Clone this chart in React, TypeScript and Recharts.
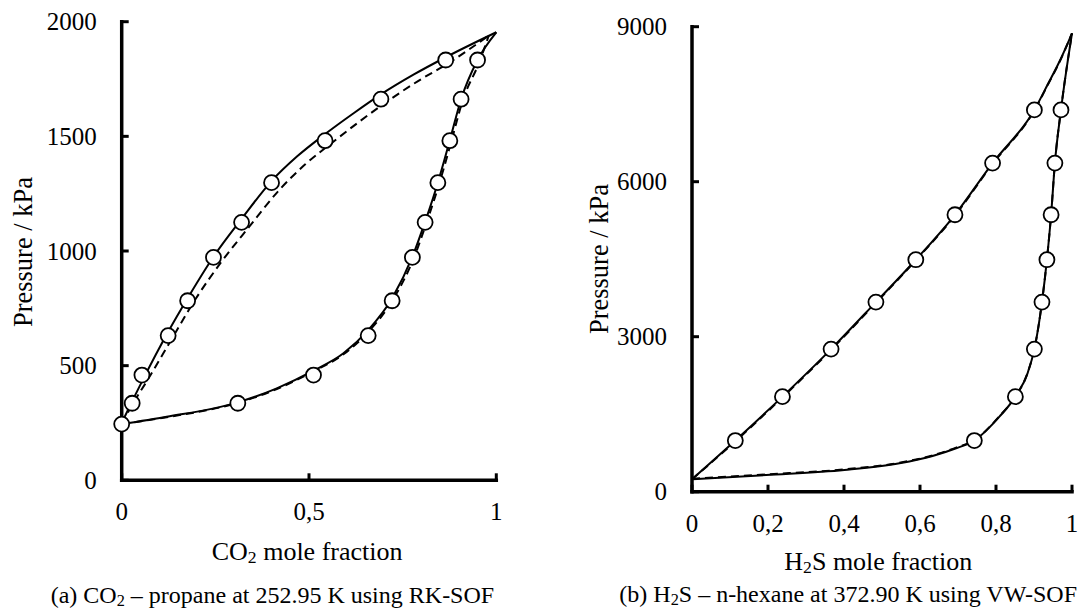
import React from 'react';
import { ComposedChart, Line, Scatter, XAxis, YAxis } from 'recharts';

const FONT = '"Liberation Serif", "Times New Roman", serif';

// (a) CO2 – propane at 252.95 K, experimental points
const co2LiquidP = [245, 336, 459, 631, 783, 972, 1125, 1298, 1481, 1662, 1833];
const co2LiquidX = [0, 0.028, 0.054, 0.124, 0.176, 0.245, 0.32, 0.4, 0.543, 0.692, 0.865];
const co2VapourP = [336, 459, 631, 783, 972, 1125, 1298, 1481, 1662, 1833];
const co2VapourX = [0.31, 0.512, 0.658, 0.722, 0.776, 0.81, 0.844, 0.876, 0.906, 0.95];

// (a) model curves
const co2BubbleX = [0, 0.03, 0.06, 0.12, 0.18, 0.245, 0.32, 0.4, 0.47, 0.543, 0.62, 0.692, 0.78, 0.865, 1];
const co2BubbleP = [250, 352, 450, 636, 805, 975, 1140, 1305, 1415, 1510, 1602, 1683, 1770, 1845, 1954];
const co2BubbleDashX = [0, 0.03, 0.07, 0.135, 0.195, 0.265, 0.34, 0.42, 0.49, 0.56, 0.635, 0.705, 0.79, 0.875, 0.98];
const co2BubbleDashP = [245, 335, 440, 620, 785, 950, 1105, 1265, 1378, 1470, 1565, 1648, 1740, 1822, 1940];
const co2DewX = [0, 0.12, 0.31, 0.414, 0.512, 0.592, 0.658, 0.722, 0.776, 0.81, 0.844, 0.876, 0.906, 0.95, 1];
const co2DewP = [245, 277, 340, 401, 478, 554, 655, 794, 975, 1128, 1298, 1483, 1662, 1833, 1954];
const co2DewDashX = [0, 0.12, 0.31, 0.414, 0.512, 0.594, 0.66, 0.725, 0.78, 0.814, 0.848, 0.88, 0.91, 0.955, 0.98];
const co2DewDashP = [245, 275, 338, 398, 475, 552, 650, 790, 970, 1125, 1295, 1478, 1655, 1825, 1940];

// (b) H2S – n-hexane at 372.90 K, experimental points
const h2sPressure = [990, 1840, 2760, 3670, 4490, 5360, 6360, 7390];
const h2sLiquidX = [0.114, 0.238, 0.366, 0.484, 0.589, 0.692, 0.791, 0.901];
const h2sVapourX = [0.743, 0.851, 0.901, 0.921, 0.934, 0.945, 0.955, 0.971];

// (b) model curves
const h2sBubbleX = [0, 0.114, 0.238, 0.366, 0.484, 0.589, 0.692, 0.791, 0.901, 0.936, 0.968, 1];
const h2sBubbleP = [240, 990, 1840, 2760, 3670, 4490, 5360, 6360, 7390, 7880, 8340, 8872];
const h2sBubbleDashP = [240, 975, 1825, 2745, 3655, 4480, 5345, 6345, 7380, 7870, 8330, 8872];
const h2sDewX = [0, 0.195, 0.401, 0.546, 0.633, 0.695, 0.743, 0.809, 0.851, 0.883, 0.901, 0.921, 0.934, 0.945, 0.955, 0.971, 1];
const h2sDewP = [240, 323, 420, 549, 690, 840, 990, 1452, 1840, 2291, 2760, 3670, 4490, 5360, 6360, 7390, 8872];
const h2sDewDashP = [250, 335, 432, 560, 702, 852, 1000, 1460, 1845, 2295, 2765, 3672, 4492, 5362, 6362, 7392, 8872];

const co2XTicks = [0, 0.5, 1];
const co2YTicks = [0, 500, 1000, 1500, 2000];
const h2sXTicks = [0, 0.2, 0.4, 0.6, 0.8, 1];
const h2sYTicks = [0, 3000, 6000, 9000];

const toPts = (xs: number[], ps: number[]) => xs.map((x, i) => ({ x, p: ps[i] }));

const XTick = (props: any) => {
  const { x, y, payload } = props;
  return (
    <g>
      <line x1={x} y1={y} x2={x} y2={y - 7} stroke="#000" strokeWidth={3} />
      <text x={x} y={y + 40} textAnchor="middle" fontFamily={FONT} fontSize={25} fill="#000">
        {String(payload.value).replace('.', ',')}
      </text>
    </g>
  );
};

const YTick = (props: any) => {
  const { x, y, payload } = props;
  return (
    <g>
      <line x1={x} y1={y} x2={x + 7} y2={y} stroke="#000" strokeWidth={3} />
      <text x={x - 25} y={y + 8.5} textAnchor="end" fontFamily={FONT} fontSize={25} fill="#000">
        {payload.value}
      </text>
    </g>
  );
};

const Dot = (props: any) => (
  <circle cx={props.cx} cy={props.cy} r={7.5} fill="#fff" stroke="#000" strokeWidth={1.8} />
);

const axisLine = { stroke: '#000', strokeWidth: 3.5, strokeLinecap: 'square' as const };

const Sub = ({ children }: { children: React.ReactNode }) => (
  <span style={{ fontSize: '0.68em', position: 'relative', top: '0.2em' }}>{children}</span>
);

const textStyle = (left: number, top: number, size: number): React.CSSProperties => ({
  position: 'absolute',
  left,
  top,
  transform: 'translateY(-50%)',
  whiteSpace: 'nowrap',
  fontFamily: FONT,
  fontSize: size,
  lineHeight: 1,
  color: '#000',
});

const yTitleStyle = (cx: number, cy: number): React.CSSProperties => ({
  position: 'absolute',
  left: cx,
  top: cy,
  transform: 'translate(-50%, -50%) rotate(-90deg)',
  whiteSpace: 'nowrap',
  fontFamily: FONT,
  fontSize: 26.5,
  lineHeight: 1,
  color: '#000',
});

const solid = { stroke: '#000', strokeWidth: 2, dot: false, isAnimationActive: false, type: 'monotone' as const };

export default function App() {
  return (
    <div style={{ position: 'absolute', left: 0, top: 0, width: 1086, height: 610, background: '#fff', overflow: 'hidden' }}>
      <div style={{ position: 'absolute', left: 0, top: 0 }}>
        <ComposedChart width={543} height={610} margin={{ top: 21.7, right: 46.7, bottom: 0, left: 0 }}>
          <XAxis
            type="number"
            dataKey="x"
            domain={[0, 1]}
            ticks={co2XTicks}
            interval={0}
            height={129.7}
            tickSize={0}
            tickMargin={0}
            tickLine={false}
            axisLine={axisLine}
            tick={XTick}
          />
          <YAxis
            type="number"
            dataKey="p"
            domain={[0, 2000]}
            ticks={co2YTicks}
            interval={0}
            width={121.7}
            tickSize={0}
            tickMargin={0}
            tickLine={false}
            axisLine={axisLine}
            tick={YTick}
          />
          <Line data={toPts(co2BubbleDashX, co2BubbleDashP)} dataKey="p" {...solid} strokeDasharray="8 5" />
          <Line data={toPts(co2DewDashX, co2DewDashP)} dataKey="p" {...solid} strokeDasharray="8 5" />
          <Line data={toPts(co2BubbleX, co2BubbleP)} dataKey="p" {...solid} />
          <Line data={toPts(co2DewX, co2DewP)} dataKey="p" {...solid} />
          <Scatter data={toPts(co2LiquidX, co2LiquidP)} dataKey="p" shape={Dot} isAnimationActive={false} />
          <Scatter data={toPts(co2VapourX, co2VapourP)} dataKey="p" shape={Dot} isAnimationActive={false} />
        </ComposedChart>
      </div>
      <div style={{ position: 'absolute', left: 543, top: 0 }}>
        <ComposedChart width={543} height={610} margin={{ top: 26.7, right: 14, bottom: 0, left: 0 }}>
          <XAxis
            type="number"
            dataKey="x"
            domain={[0, 1]}
            ticks={h2sXTicks}
            interval={0}
            height={118.3}
            tickSize={0}
            tickMargin={0}
            tickLine={false}
            axisLine={axisLine}
            tick={XTick}
          />
          <YAxis
            type="number"
            dataKey="p"
            domain={[0, 9000]}
            ticks={h2sYTicks}
            interval={0}
            width={149}
            tickSize={0}
            tickMargin={0}
            tickLine={false}
            axisLine={axisLine}
            tick={YTick}
          />
          <Line data={toPts(h2sBubbleX, h2sBubbleDashP)} dataKey="p" {...solid} strokeDasharray="8 5" />
          <Line data={toPts(h2sDewX, h2sDewDashP)} dataKey="p" {...solid} strokeDasharray="8 5" />
          <Line data={toPts(h2sBubbleX, h2sBubbleP)} dataKey="p" {...solid} />
          <Line data={toPts(h2sDewX, h2sDewP)} dataKey="p" {...solid} />
          <Scatter data={toPts(h2sLiquidX, h2sPressure)} dataKey="p" shape={Dot} isAnimationActive={false} />
          <Scatter data={toPts(h2sVapourX, h2sPressure)} dataKey="p" shape={Dot} isAnimationActive={false} />
        </ComposedChart>
      </div>

      <div style={yTitleStyle(23.3, 251.7)}>Pressure / kPa</div>
      <div style={yTitleStyle(598.7, 259.2)}>Pressure / kPa</div>
      <div style={textStyle(211.7, 551.5, 26)}>
        CO<Sub>2</Sub> mole fraction
      </div>
      <div style={textStyle(784.3, 561.7, 26)}>
        H<Sub>2</Sub>S mole fraction
      </div>
      <div style={textStyle(50.7, 595, 24)}>
        (a) CO<Sub>2</Sub> – propane at 252.95 K using RK-SOF
      </div>
      <div style={textStyle(619.3, 594, 24)}>
        (b) H<Sub>2</Sub>S – n-hexane at 372.90 K using VW-SOF
      </div>
    </div>
  );
}
